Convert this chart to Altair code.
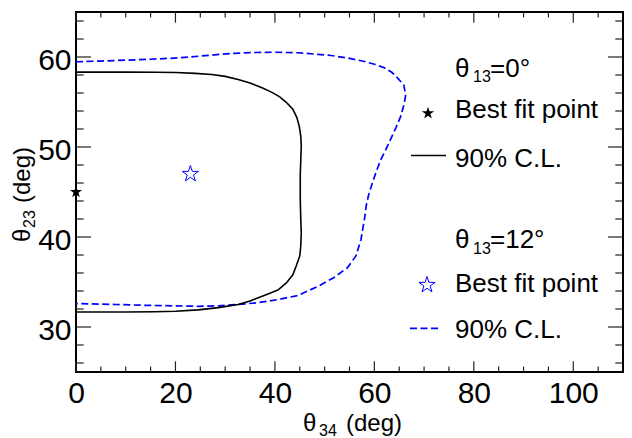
import altair as alt
import pandas as pd

# theta13 = 0 deg : 90% C.L. contour (black solid)
c0_x = [0, 10, 16, 20, 24, 27.3, 30, 32.6, 35, 37.3, 39.3, 40.9, 42.4, 43.6, 44.4, 44.9, 45.2, 45.3, 45.2, 45.1,
        45.1, 45.2, 45.3, 45.2, 45.0, 44.3, 43.6, 42.3, 40.6, 39.0, 37.3, 35.0, 32.6, 28.6, 24.6, 20.0, 15.9, 10, 0]
c0_y = [58.32, 58.32, 58.3, 58.27, 58.18, 58.05, 57.85, 57.5, 57.1, 56.6, 56.1, 55.6, 54.9, 54.2, 53.3, 52.3, 51.2, 50.1, 48.5, 47.0,
        44.2, 42.0, 40.5, 39.0, 37.9, 36.8, 35.8, 34.9, 34.1, 33.75, 33.4, 32.9, 32.5, 32.15, 31.9, 31.75, 31.7, 31.67, 31.67]

# theta13 = 12 deg : 90% C.L. contour (blue dashed)
c12_x = [0, 5, 10, 15, 20.6, 26, 31.3, 36, 40, 44.6, 48.6, 51.3, 55, 58, 60, 62, 63.5, 64.6, 65.9, 66.3,
         66.0, 65.3, 64.3, 63.3, 62.3, 61.3, 60.4, 59.6, 58.9, 58.4, 58.0, 57.3, 56.3, 54.6, 51.9, 48.6, 44.6, 40.6, 36.6, 32.6,
         28.6, 24.6, 19.6, 14.6, 8, 0]
c12_y = [59.47, 59.55, 59.65, 59.75, 59.9, 60.15, 60.4, 60.5, 60.53, 60.47, 60.3, 60.17, 59.85, 59.5, 59.2, 58.8, 58.3, 57.7, 56.9, 55.8,
         54.8, 53.4, 52.1, 50.9, 49.7, 48.6, 47.3, 46.0, 44.8, 43.6, 41.97, 39.7, 37.9, 36.6, 35.5, 34.5, 33.5, 33.05, 32.7, 32.5,
         32.35, 32.3, 32.35, 32.4, 32.5, 32.6]

# best fit points
best0_x, best0_y = [0], [45]
best12_x, best12_y = [23], [47]

# ticks
x_major = [0, 20, 40, 60, 80, 100]
x_minor = [5, 10, 15, 25, 30, 35, 45, 50, 55, 65, 70, 75, 85, 90, 95, 105]
y_major = [30, 40, 50, 60]
y_minor = [26, 28, 32, 34, 36, 38, 42, 44, 46, 48, 52, 54, 56, 58, 62, 64]

# texts
x_title = ["θ", "34", "(deg)"]
y_title = ["θ", "23", "(deg)"]
leg0 = ["θ", "13", "=0°", "Best fit point", "90% C.L."]
leg12 = ["θ", "13", "=12°", "Best fit point", "90% C.L."]

W, H = 547, 360
FONT = "Liberation Sans"
LFS = 26
DASH = [7, 3.5]
STAR = ("M0,-1L0.2245,-0.309L0.9511,-0.309L0.3633,0.118L0.5878,0.809L0,0.382"
        "L-0.5878,0.809L-0.3633,0.118L-0.9511,-0.309L-0.2245,-0.309Z")

xs = alt.Scale(domain=[0, 110], nice=False, zero=False)
ys = alt.Scale(domain=[25, 65], nice=False, zero=False)
xaxis = alt.Axis(values=x_major, ticks=False, tickSize=0, domain=False, grid=False, labelFont=FONT,
                 labelFontSize=30, labelColor="black", labelPadding=6, title=None, labelFlush=False,
                 labelOverlap=False)
yaxis = alt.Axis(values=y_major, ticks=False, tickSize=0, domain=False, grid=False, labelFont=FONT,
                 labelFontSize=30, labelColor="black", labelPadding=5, labelOffset=3, title=None,
                 labelFlush=False, labelOverlap=False)


def X(f):
    return alt.X(f, type="quantitative", scale=xs, axis=xaxis)


def Y(f):
    return alt.Y(f, type="quantitative", scale=ys, axis=yaxis)


layers = []

df0 = pd.DataFrame({"x": c0_x, "y": c0_y, "i": list(range(len(c0_x)))})
df12 = pd.DataFrame({"x": c12_x, "y": c12_y, "i": list(range(len(c12_x)))})
layers.append(alt.Chart(df12).mark_line(color="#0000ff", strokeWidth=1.7, strokeDash=DASH).encode(
    x=X("x"), y=Y("y"), order="i:Q"))
layers.append(alt.Chart(df0).mark_line(color="black", strokeWidth=1.6).encode(
    x=X("x"), y=Y("y"), order="i:Q"))

layers.append(alt.Chart(pd.DataFrame({"x": best0_x, "y": best0_y})).mark_point(
    shape=STAR, filled=True, size=170, color="black", opacity=1).encode(x=X("x"), y=Y("y")))
layers.append(alt.Chart(pd.DataFrame({"x": best12_x, "y": best12_y})).mark_point(
    shape=STAR, filled=False, size=290, color="#0000ff", strokeWidth=1, opacity=1).encode(x=X("x"), y=Y("y")))

TC = "#222222"
# y ticks, left and right
for vals, ln in ((y_major, 15), (y_minor, 7.7)):
    d = pd.DataFrame({"v": vals})
    layers.append(alt.Chart(d).mark_rule(color=TC, strokeWidth=1.2).encode(
        y=Y("v"), x=alt.value(0), x2=alt.value(ln)))
    layers.append(alt.Chart(d).mark_rule(color=TC, strokeWidth=1.2).encode(
        y=Y("v"), x=alt.value(W), x2=alt.value(W - ln)))
# x ticks, bottom and top
for vals, ln in ((x_major, 10.7), (x_minor, 5.5)):
    d = pd.DataFrame({"v": vals})
    layers.append(alt.Chart(d).mark_rule(color=TC, strokeWidth=1.2).encode(
        x=X("v"), y=alt.value(H), y2=alt.value(H - ln)))
    layers.append(alt.Chart(d).mark_rule(color=TC, strokeWidth=1.2).encode(
        x=X("v"), y=alt.value(0), y2=alt.value(ln)))


def txt(s, x, y, size=LFS, angle=0, color="black"):
    return alt.Chart(pd.DataFrame({"t": [s]})).mark_text(
        align="left", baseline="alphabetic", font=FONT, fontSize=size, color=color, angle=angle
    ).encode(text="t:N", x=alt.value(x), y=alt.value(y))


dummy = pd.DataFrame({"a": [0]})

# x-axis title
layers.append(txt(x_title[0], 227, 419, 24))
layers.append(txt(x_title[1], 243, 423.5, 16))
layers.append(txt(x_title[2], 270, 419, 24))
# y-axis title (rotated)
layers.append(txt(y_title[0], -46, 230, 24, angle=270))
layers.append(txt(y_title[1], -41, 216, 16, angle=270))
layers.append(txt(y_title[2], -46, 191, 24, angle=270))

# legend group 1
layers.append(txt(leg0[0], 379, 64.7))
layers.append(txt(leg0[1], 397, 70, 16))
layers.append(txt(leg0[2], 414, 64.7))
layers.append(alt.Chart(dummy).mark_point(shape=STAR, filled=True, size=170, color="black", opacity=1).encode(
    x=alt.value(352), y=alt.value(101.3)))
layers.append(txt(leg0[3], 379, 106.3))
layers.append(alt.Chart(dummy).mark_rule(color="black", strokeWidth=1.6).encode(
    x=alt.value(335), x2=alt.value(370), y=alt.value(143.5)))
layers.append(txt(leg0[4], 379, 154.7))

# legend group 2
layers.append(txt(leg12[0], 379, 236.3))
layers.append(txt(leg12[1], 397, 242, 16))
layers.append(txt(leg12[2], 414, 236.3))
layers.append(alt.Chart(dummy).mark_point(shape=STAR, filled=False, size=290, color="#0000ff", strokeWidth=1,
                                          opacity=1).encode(x=alt.value(351), y=alt.value(273)))
layers.append(txt(leg12[3], 379, 279.7))
layers.append(alt.Chart(dummy).mark_rule(color="#0000ff", strokeWidth=1.7, strokeDash=DASH).encode(
    x=alt.value(334), x2=alt.value(365), y=alt.value(316.3)))
layers.append(txt(leg12[4], 379, 326))

chart = alt.layer(*layers).properties(
    width=W, height=H,
    padding={"left": 68, "top": 4, "right": 1, "bottom": 65},
    autosize=alt.AutoSizeParams(type="none"),
).configure_view(stroke="black", strokeWidth=2)

chart.save("out.html", embed_options={"renderer": "svg", "actions": False})
